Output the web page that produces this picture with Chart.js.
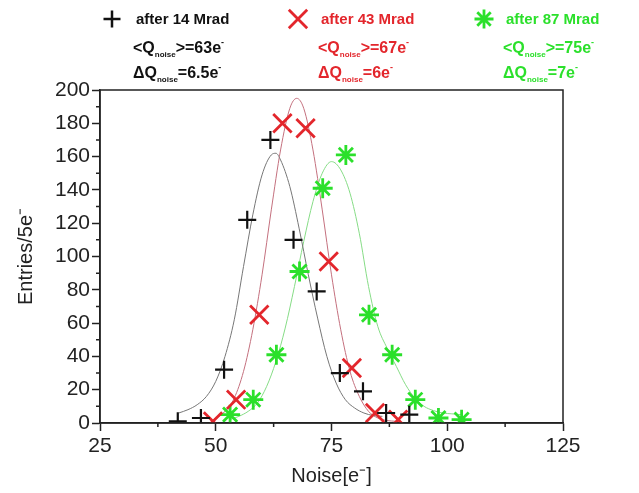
<!DOCTYPE html>
<html lang="en">
<head>
<meta charset="UTF-8">
<title>Noise after irradiation</title>
<script src="https://cdn.jsdelivr.net/npm/chart.js@4.4.1/dist/chart.umd.min.js"></script>
<style>
    html, body { margin: 0; padding: 0; background: #fff; }
    #wrap { width: 639px; height: 493px; }
</style>
</head>
<body>
<div id="wrap"><canvas id="chart" width="639" height="493"></canvas></div>
<script>
    // measured histograms (bin centres, entries per 5 e-)
    const x14 = [41.8, 46.8, 51.8, 56.8, 61.8, 66.8, 71.8, 76.8, 81.8, 86.8, 91.8]
    const y14 = [1, 3, 32, 122, 170, 110, 79, 30, 19, 6, 5]
    const x43 = [49.4, 54.4, 59.4, 64.4, 69.4, 74.4, 79.4, 84.4, 89.4]
    const y43 = [1, 14, 65, 180, 177, 97, 33, 6, 2]
    const x87 = [53.1, 58.1, 63.1, 68.1, 73.1, 78.1, 83.1, 88.1, 93.1, 98.1, 103.1]
    const y87 = [5, 14, 41, 91, 141, 161, 65, 41, 14, 3, 2]

    // fitted curves
    const fitX14 = [42, 44, 46, 48, 50, 52, 54, 56, 58, 60, 62, 63, 64, 66, 68, 70, 72, 74, 76, 78, 80, 82, 84, 86]
    const fitY14 = [6, 8, 11, 16, 25, 40, 62, 94, 125, 149, 161, 162, 158, 142, 117, 89, 63, 40, 24, 14, 9, 6, 4.5, 4]
    const fitX43 = [49.5, 52, 54, 56, 58, 60, 62, 64, 66, 67.5, 69, 71, 73, 75, 77, 79, 81, 83, 85, 87, 89]
    const fitY43 = [2, 7, 15, 31, 56, 89, 128, 164, 189, 195, 189, 164, 128, 89, 56, 31, 16, 7, 3, 1.5, 1]
    const fitX87 = [53, 55, 57, 59, 61, 63, 65, 67, 69, 71, 73, 75, 77, 79, 81, 83, 85, 87, 89, 91, 93, 95, 97, 99, 101, 103]
    const fitY87 = [2, 4, 7, 12, 22, 37, 57, 82, 109, 133, 150, 157, 152, 138, 114, 82, 58, 45, 34, 23, 15, 10, 7.5, 6, 5.5, 5]

    // legend texts
    const doses = ['after 14 Mrad', 'after 43 Mrad', 'after 87 Mrad']
    const means = ['63', '67', '75']
    const widths = ['6.5', '6', '7']

    // axis ticks
    const xMinor = [37.5, 62.5, 87.5, 112.5]
    const yMinor = [10, 30, 50, 70, 90, 110, 130, 150, 170, 190]

    const black = '#111111'
    const red = '#e3262c'
    const green = '#2be02b'
    const font = '"Liberation Sans", Arial, sans-serif'

    function pts(xs, ys) {
        return xs.map((x, i) => ({x: x, y: ys[i]}))
    }

    function marker(ctx, style, x, y, r, color, lw) {
        ctx.save()
        ctx.strokeStyle = color
        ctx.lineWidth = lw
        ctx.beginPath()
        if (style === 'cross' || style === 'star') {
            ctx.moveTo(x - r, y); ctx.lineTo(x + r, y)
            ctx.moveTo(x, y - r); ctx.lineTo(x, y + r)
        }
        if (style === 'crossRot' || style === 'star') {
            const d = r * Math.SQRT1_2
            ctx.moveTo(x - d, y - d); ctx.lineTo(x + d, y + d)
            ctx.moveTo(x + d, y - d); ctx.lineTo(x - d, y + d)
        }
        ctx.stroke()
        ctx.restore()
    }

    function rich(ctx, x, y, parts, color) {
        ctx.fillStyle = color
        ctx.textBaseline = 'alphabetic'
        ctx.textAlign = 'left'
        let cx = x
        parts.forEach(p => {
            ctx.font = 'bold ' + p.size + 'px ' + font
            ctx.fillText(p.t, cx, y + (p.dy || 0))
            cx += ctx.measureText(p.t).width
        })
    }

    const legendPlugin = {
        id: 'legendText',
        afterDraw(chart) {
            const ctx = chart.ctx
            const cols = [
                {mx: 112, tx: 136, lx: 133, color: black, style: 'cross', r: 8.5, lw: 2.5},
                {mx: 298, tx: 321, lx: 318, color: red, style: 'crossRot', r: 13, lw: 2.8},
                {mx: 484, tx: 506, lx: 503, color: green, style: 'star', r: 9.5, lw: 2.8},
            ]
            ctx.save()
            cols.forEach((c, i) => {
                marker(ctx, c.style, c.mx, 19, c.r, c.color, c.lw)
                rich(ctx, c.tx, 24, [{t: doses[i], size: 15}], c.color)
                rich(ctx, c.lx, 53, [
                    {t: '<Q', size: 16},
                    {t: 'noise', size: 8, dy: 4},
                    {t: '>=' + means[i] + 'e', size: 16},
                    {t: '-', size: 9, dy: -8},
                ], c.color)
                rich(ctx, c.lx, 78, [
                    {t: '\u0394Q', size: 16},
                    {t: 'noise', size: 8, dy: 4},
                    {t: '=' + widths[i] + 'e', size: 16},
                    {t: '-', size: 9, dy: -8},
                ], c.color)
            })
            ctx.restore()
        }
    }

    const framePlugin = {
        id: 'frame',
        afterDraw(chart) {
            const {ctx, chartArea: a, scales: {x, y}} = chart
            ctx.save()
            ctx.strokeStyle = '#222'
            ctx.lineWidth = 1.5
            ctx.strokeRect(a.left, a.top, a.right - a.left, a.bottom - a.top)
            ctx.beginPath()
            xMinor.forEach(v => {
                const px = x.getPixelForValue(v)
                ctx.moveTo(px, a.bottom)
                ctx.lineTo(px, a.bottom + 4)
            })
            yMinor.forEach(v => {
                const py = y.getPixelForValue(v)
                ctx.moveTo(a.left, py)
                ctx.lineTo(a.left - 4, py)
            })
            ctx.stroke()
            ctx.restore()
        }
    }

    const clipBottom = {left: false, right: false, top: false, bottom: 0}

    function markers(data, color, style, r, lw) {
        return {
            data: data, showLine: false, order: 0, clip: clipBottom,
            pointStyle: style, pointRadius: r, pointHoverRadius: r,
            pointBorderWidth: lw, borderColor: color, backgroundColor: color,
        }
    }

    function fit(data, color) {
        return {
            data: data, showLine: true, order: 1, pointRadius: 0,
            borderColor: color, borderWidth: 1, cubicInterpolationMode: 'monotone',
        }
    }

    const chart = new Chart(document.getElementById('chart'), {
        type: 'scatter',
        data: {
            datasets: [
                markers(pts(x14, y14), black, 'cross', 9, 2.2),
                markers(pts(x43, y43), red, 'crossRot', 13, 2.8),
                markers(pts(x87, y87), green, 'star', 10, 2.8),
                fit(pts(fitX14, fitY14), '#777777'),
                fit(pts(fitX43, fitY43), '#c4707e'),
                fit(pts(fitX87, fitY87), '#86dc86'),
            ],
        },
        options: {
            responsive: false,
            animation: false,
            events: [],
            layout: {padding: {top: 90, right: 76, left: 0, bottom: 0}},
            plugins: {legend: {display: false}, tooltip: {enabled: false}},
            scales: {
                x: {
                    type: 'linear', min: 25, max: 125,
                    afterFit: s => { s.height = 70 },
                    grid: {drawOnChartArea: false, tickLength: 8, tickColor: '#222', tickWidth: 1.5},
                    border: {display: true, color: '#222', width: 1.5},
                    ticks: {stepSize: 25, padding: 3, color: '#222', font: {family: font, size: 21}},
                    title: {display: true, text: 'Noise[e\u207B]', color: '#222',
                        font: {family: font, size: 20}, padding: {top: 0, bottom: 5}},
                },
                y: {
                    type: 'linear', min: 0, max: 200,
                    afterFit: s => { s.width = 100 },
                    grid: {drawOnChartArea: false, tickLength: 8, tickColor: '#222', tickWidth: 1.5},
                    border: {display: true, color: '#222', width: 1.5},
                    ticks: {stepSize: 20, padding: 2, color: '#222', font: {family: font, size: 21}},
                    title: {display: true, text: 'Entries/5e\u207B', color: '#222',
                        font: {family: font, size: 20}, padding: {top: 14, bottom: 0}},
                },
            },
        },
        plugins: [framePlugin, legendPlugin],
    })
</script>
</body>
</html>
